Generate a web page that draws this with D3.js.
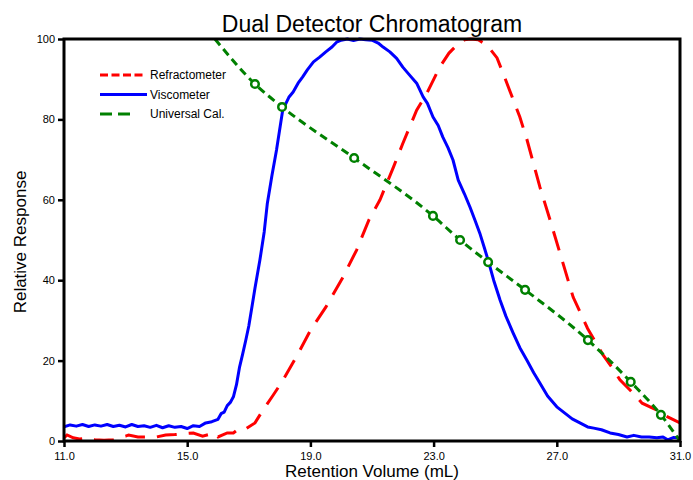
<!DOCTYPE html>
<html lang="en">
<head>
  <meta charset="UTF-8">
  <title>Dual Detector Chromatogram</title>
  <script src="https://d3js.org/d3.v7.min.js"></script>
  <style>
    body { margin: 0; background: #fff; }
    text { font-family: "Liberation Sans", Arial, sans-serif; fill: #000; }
  </style>
</head>
<body>
  <svg width="693" height="480"></svg>

  <script>
    // Viscometer trace (retention volume mL, relative response)
    const viscoX = [11.0, 11.2, 11.4, 11.6, 11.8, 12.0, 12.2, 12.4, 12.6, 12.8, 13.0, 13.2, 13.4, 13.6, 13.8,
      14.0, 14.2, 14.4, 14.6, 14.8, 15.0, 15.2, 15.4, 15.6, 15.8, 16.0, 16.1, 16.2, 16.3, 16.4, 16.5, 16.6,
      16.7, 16.8, 16.9, 17.0, 17.1, 17.2, 17.36, 17.5, 17.6, 17.75, 17.9, 18.1, 18.3, 18.44, 18.6, 18.75,
      18.9, 19.1, 19.3, 19.5, 19.7, 19.85, 20.0, 20.2, 20.4, 20.6, 20.8, 21.0, 21.2, 21.36, 21.58, 21.8,
      22.0, 22.2, 22.45, 22.66, 22.8, 22.98, 23.15, 23.3, 23.47, 23.63, 23.8, 24.0, 24.18, 24.35, 24.5,
      24.65, 24.77, 24.95, 25.16, 25.35, 25.58, 25.8, 26.03, 26.25, 26.45, 26.7, 27.0, 27.25, 27.5, 27.75,
      28.0, 28.2, 28.45, 28.73, 29.0, 29.28, 29.5, 29.75, 30.0, 30.25, 30.45, 30.6, 30.8, 31.0];
    const viscoY = [3.5, 4.0, 3.7, 4.1, 3.6, 4.0, 3.7, 4.1, 3.6, 3.9, 3.5, 4.1, 3.6, 3.8, 3.4,
      3.9, 3.3, 3.8, 3.4, 3.6, 3.1, 3.8, 3.6, 4.5, 4.8, 5.4, 6.8, 7.2, 8.8, 9.6, 11.0, 14.0,
      18.4, 21.6, 25.0, 28.6, 33.3, 38.0, 45.0, 52.0, 59.0, 66.0, 72.4, 82.3, 85.5, 86.8, 89.0, 90.6,
      92.3, 94.3, 95.5, 96.8, 98.0, 99.2, 99.7, 100, 99.6, 100, 99.8, 99.7, 99.0, 98.0, 96.8, 95.2,
      93.0, 91.2, 89.0, 85.6, 84.0, 80.6, 78.5, 75.6, 72.9, 69.9, 64.9, 61.5, 58.2, 54.8, 51.7,
      48.0, 45.0, 40.0, 35.0, 31.0, 26.9, 23.2, 20.1, 17.0, 14.4, 11.2, 8.5, 7.0, 5.5, 4.5,
      3.5, 3.2, 2.8, 2.0, 1.6, 1.0, 1.4, 1.0, 1.0, 0.8, 1.0, 0.3, 0.9, 0.7];

    // Refractometer trace
    const refracX = [11.0, 11.1, 11.3, 11.5, 11.8, 12.0, 12.3, 12.6, 12.8, 13.0, 13.1, 13.4, 13.7, 14.0,
      14.3, 14.6, 14.9, 15.2, 15.5, 15.7, 15.8, 16.0, 16.3, 16.5, 16.7, 16.9, 17.2, 17.46, 17.8, 18.1,
      18.4, 18.66, 19.0, 19.5, 20.06, 20.5, 20.9, 21.26, 21.7, 22.0, 22.45, 22.78, 23.2, 23.5, 23.76,
      24.0, 24.2, 24.45, 24.73, 25.06, 25.38, 25.8, 26.03, 26.45, 26.78, 27.1, 27.53, 28.0, 28.5, 28.8,
      29.05, 29.44, 29.77, 30.25, 30.6, 31.0];
    const refracY = [0.8, 1.5, 0.8, 0.5, 0.7, 0.3, 0.2, 0.3, 0.8, 1.2, 1.5, 1.0, 1.0, 1.0,
      1.5, 1.6, 1.8, 2.0, 1.2, 1.6, 2.2, 1.0, 2.0, 2.0, 3.2, 3.0, 4.5, 7.7, 11.5, 15.0,
      19.0, 22.6, 27.5, 33.3, 40.8, 47.5, 55.0, 60.0, 68.2, 74.0, 82.3, 86.5, 93.0, 96.5, 98.5,
      99.8, 100, 99.8, 98.5, 95.3, 89.0, 80.6, 75.0, 63.2, 55.0, 46.8, 35.8, 28.0, 21.4, 18.2,
      15.2, 12.2, 9.4, 7.7, 6.0, 4.5];

    // Universal calibration: line ends and marked points
    const calLineX = [15.9, 31.0];
    const calLineY = [100, 0];
    const calMarkX = [17.2, 18.08, 20.42, 22.98, 23.86, 24.77, 25.97, 28.01, 29.4, 30.38];
    const calMarkY = [88.8, 83.1, 70.4, 56.0, 50.0, 44.5, 37.6, 25.1, 14.7, 6.5];

    const xTicks = [11.0, 15.0, 19.0, 23.0, 27.0, 31.0];
    const yTicks = [0, 20, 40, 60, 80, 100];

    const seriesNames = ["Refractometer", "Viscometer", "Universal Cal."];
    const seriesColors = ["#ff0000", "#0000ff", "#008000"];

    const width = 693, height = 480;
    const margin = { top: 39, right: 13, bottom: 39, left: 64 };

    const svg = d3.select("svg");

    const x = d3.scaleLinear()
      .domain([11, 31])
      .range([margin.left, width - margin.right]);
    const y = d3.scaleLinear()
      .domain([0, 100])
      .range([height - margin.bottom, margin.top]);

    const zip = (xs, ys) => xs.map((v, i) => [v, ys[i]]);
    const line = d3.line().x(d => x(d[0])).y(d => y(d[1]));

    const clip = svg.append("clipPath").attr("id", "plot")
      .append("rect")
      .attr("x", x(11)).attr("y", y(100) - 2)
      .attr("width", x(31) - x(11)).attr("height", y(0) - y(100) + 2);

    const plot = svg.append("g").attr("clip-path", "url(#plot)");

    // Refractometer
    plot.append("path")
      .attr("d", line(zip(refracX, refracY)))
      .attr("fill", "none")
      .attr("stroke", seriesColors[0])
      .attr("stroke-width", 3)
      .attr("stroke-dasharray", "20,12");

    // Viscometer
    plot.append("path")
      .attr("d", line(zip(viscoX, viscoY)))
      .attr("fill", "none")
      .attr("stroke", seriesColors[1])
      .attr("stroke-width", 3)
      .attr("stroke-linejoin", "round");

    // Universal calibration curve
    const calPts = [[calLineX[0], calLineY[0]], ...zip(calMarkX, calMarkY), [calLineX[1], calLineY[1]]];
    plot.append("path")
      .attr("d", d3.line().x(d => x(d[0])).y(d => y(d[1])).curve(d3.curveMonotoneX)(calPts))
      .attr("fill", "none")
      .attr("stroke", seriesColors[2])
      .attr("stroke-width", 3)
      .attr("stroke-dasharray", "8,5");

    svg.append("g")
      .selectAll("circle")
      .data(zip(calMarkX, calMarkY))
      .join("circle")
      .attr("cx", d => x(d[0]))
      .attr("cy", d => y(d[1]))
      .attr("r", 3.8)
      .attr("fill", "#fff")
      .attr("stroke", seriesColors[2])
      .attr("stroke-width", 2.5);

    // Axes
    const xAxis = svg.append("g")
      .attr("transform", `translate(0,${y(0)})`)
      .call(d3.axisBottom(x).tickValues(xTicks).tickFormat(d3.format(".1f")).tickSize(6).tickPadding(5));
    const yAxis = svg.append("g")
      .attr("transform", `translate(${x(11)},0)`)
      .call(d3.axisLeft(y).tickValues(yTicks).tickSize(6).tickPadding(3));

    [xAxis, yAxis].forEach(g => {
      g.select(".domain").remove();
      g.selectAll(".tick line").attr("stroke", "#000").attr("stroke-width", 2.5);
      g.selectAll(".tick text")
        .style("font-family", "'Liberation Sans', Arial, sans-serif")
        .style("font-size", "11px")
        .attr("fill", "#000");
    });

    // Frame
    svg.append("rect")
      .attr("x", x(11)).attr("y", y(100))
      .attr("width", x(31) - x(11)).attr("height", y(0) - y(100))
      .attr("fill", "none")
      .attr("stroke", "#000")
      .attr("stroke-width", 3);

    // Titles
    svg.append("text")
      .attr("x", (x(11) + x(31)) / 2)
      .attr("y", 32)
      .attr("text-anchor", "middle")
      .style("font-size", "23px")
      .text("Dual Detector Chromatogram");

    svg.append("text")
      .attr("x", (x(11) + x(31)) / 2)
      .attr("y", 477)
      .attr("text-anchor", "middle")
      .style("font-size", "17px")
      .text("Retention Volume (mL)");

    svg.append("text")
      .attr("transform", `translate(26,242) rotate(-90)`)
      .attr("text-anchor", "middle")
      .style("font-size", "17px")
      .text("Relative Response");

    // Legend
    const legendDash = ["8,3.5", null, "12,6"];
    const legendLen = [43, 47, 30];
    const legend = svg.append("g");
    seriesNames.forEach((name, i) => {
      const ly = 75 + i * 19.5;
      legend.append("line")
        .attr("x1", 100).attr("x2", 100 + legendLen[i])
        .attr("y1", ly).attr("y2", ly)
        .attr("stroke", seriesColors[i])
        .attr("stroke-width", 3)
        .attr("stroke-dasharray", legendDash[i]);
      legend.append("text")
        .attr("x", 150).attr("y", ly + 4)
        .style("font-size", "12px")
        .attr("fill", seriesColors[i])
        .text(name);
    });
  </script>
</body>
</html>
